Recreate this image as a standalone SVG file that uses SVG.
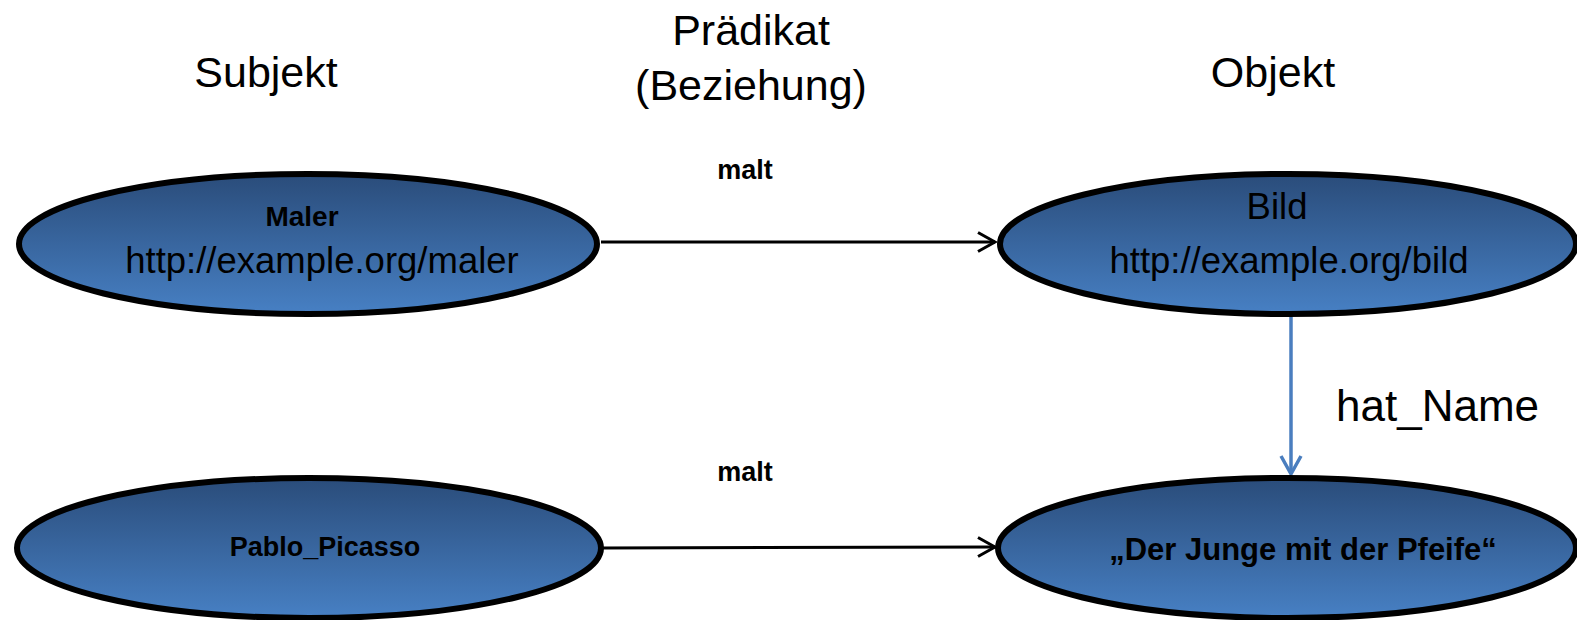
<svg xmlns="http://www.w3.org/2000/svg" width="1577" height="620" viewBox="0 0 1577 620">
<style>
.hdr{font-family:"Liberation Sans",Arial,sans-serif;font-size:43px;fill:#000;text-anchor:middle}
.lbl{font-family:"Liberation Sans",Arial,sans-serif;font-weight:bold;font-size:27px;fill:#000;text-anchor:middle}
.big{font-family:"Liberation Sans",Arial,sans-serif;font-weight:bold;font-size:31px;fill:#000;text-anchor:middle}
.uri{font-family:"Liberation Sans",Arial,sans-serif;font-size:36.5px;fill:#000;text-anchor:middle}
.node{fill:url(#g);stroke:#000;stroke-width:6}
.conn{stroke:#000;stroke-width:3;fill:none;marker-end:url(#ah)}
.connb{stroke:#4a7ebf;stroke-width:3.5;fill:none;marker-end:url(#ahb)}
</style>
<defs>
<linearGradient id="g" x1="0" y1="0" x2="0" y2="1">
<stop offset="0" stop-color="#2a4c7a"/>
<stop offset="1" stop-color="#4780c4"/>
</linearGradient>
<marker id="ah" markerWidth="22" markerHeight="22" refX="19" refY="11" orient="auto" markerUnits="userSpaceOnUse" viewBox="0 0 22 22">
<path d="M2,1.5 L19,11 L2,20.5" fill="none" stroke="#000" stroke-width="3"/>
</marker>
<marker id="ahb" markerWidth="24" markerHeight="24" refX="20" refY="12" orient="auto" markerUnits="userSpaceOnUse" viewBox="0 0 24 24">
<path d="M2,2 L20,12 L2,22" fill="none" stroke="#4a7ebf" stroke-width="3.5"/>
</marker>
</defs>
<rect width="1577" height="620" fill="#fff"/>
<g id="headers">
<text class="hdr" x="266" y="87">Subjekt</text>
<text class="hdr" x="751" y="45">Prädikat</text>
<text class="hdr" x="751" y="100">(Beziehung)</text>
<text class="hdr" x="1273" y="87">Objekt</text>
</g>
<g id="connectors">
<line class="conn" x1="601" y1="242" x2="995" y2="242"/>
<line class="conn" x1="603" y1="548" x2="995" y2="547"/>
<line class="connb" x1="1291" y1="316" x2="1291" y2="474"/>
<text class="lbl" x="745" y="179">malt</text>
<text class="lbl" x="745" y="481">malt</text>
<text class="hdr" x="1336" y="421" style="text-anchor:start;font-size:44px">hat_Name</text>
</g>
<g id="maler">
<ellipse class="node" cx="308" cy="244" rx="289" ry="70"/>
<text class="lbl" x="302" y="226" style="font-size:28px">Maler</text>
<text class="uri" x="322" y="273">http://example.org/maler</text>
</g>
<g id="bild">
<ellipse class="node" cx="1288" cy="244" rx="288" ry="70"/>
<text class="uri" x="1277" y="219">Bild</text>
<text class="uri" x="1289" y="273">http://example.org/bild</text>
</g>
<g id="picasso">
<ellipse class="node" cx="309" cy="548" rx="292" ry="70"/>
<text class="lbl" x="325" y="556">Pablo_Picasso</text>
</g>
<g id="pfeife">
<ellipse class="node" cx="1287" cy="548" rx="289" ry="70"/>
<text class="big" x="1303" y="560">„Der Junge mit der Pfeife“</text>
</g>
</svg>
